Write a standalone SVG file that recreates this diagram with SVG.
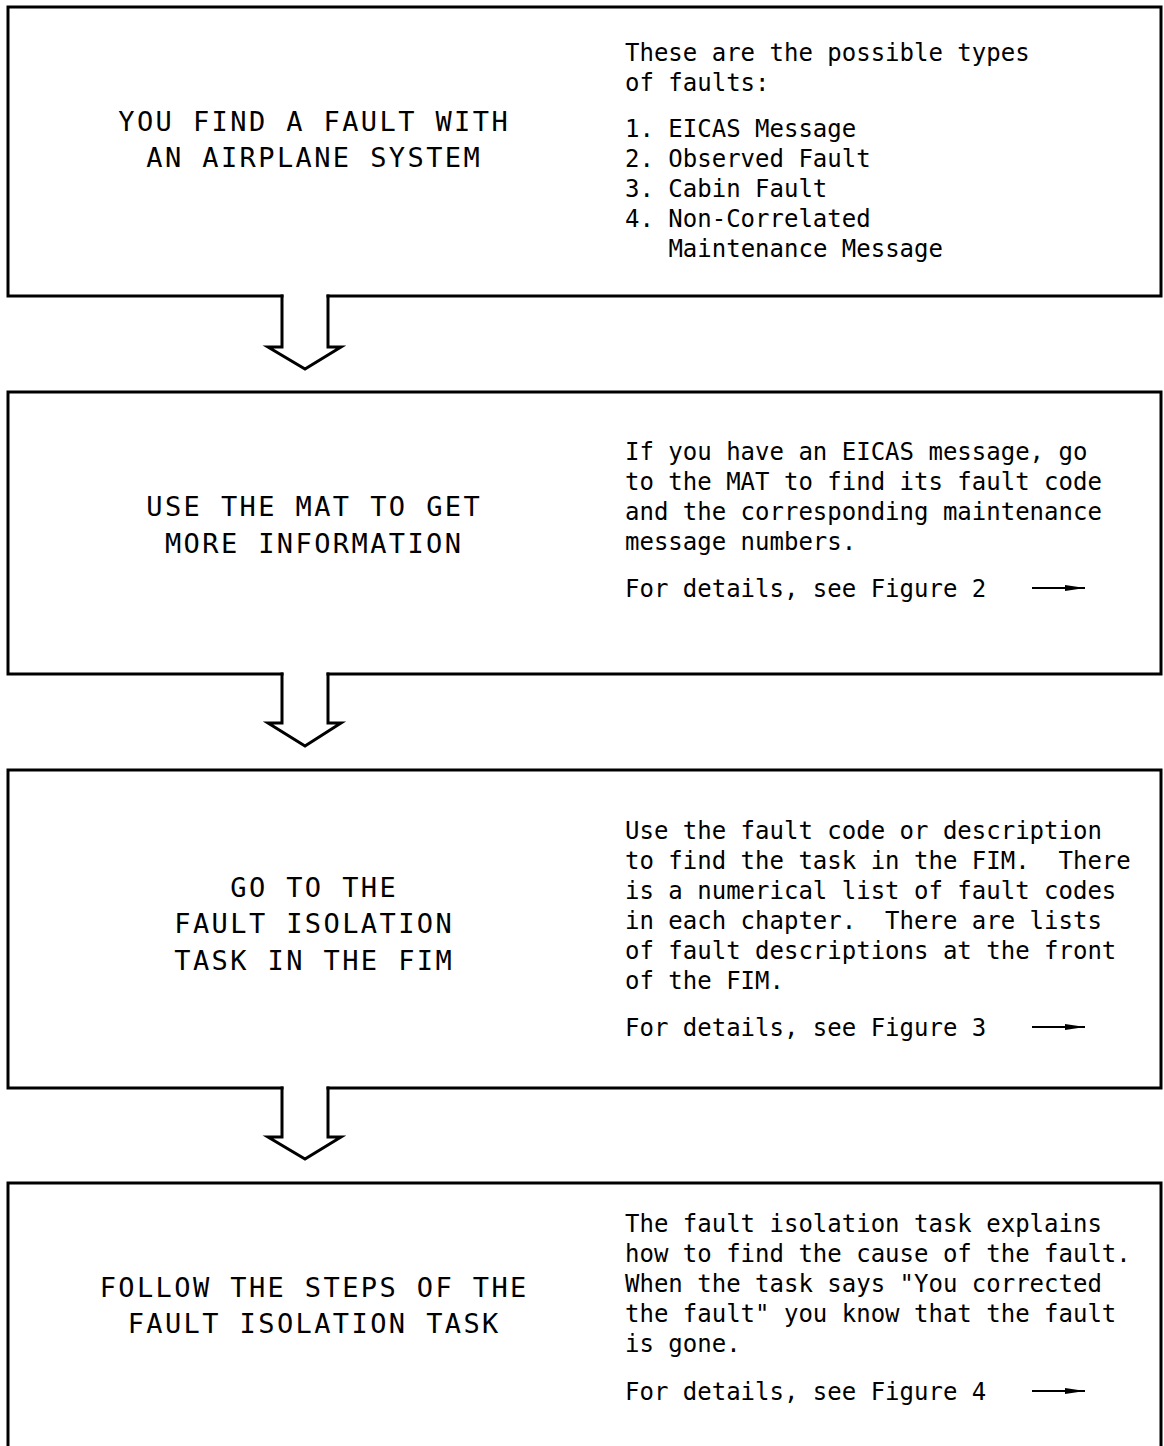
<svg xmlns="http://www.w3.org/2000/svg" width="1164" height="1446" viewBox="0 0 1164 1446">
<style>
.box{fill:none;stroke:#000;stroke-width:3;stroke-linecap:square;stroke-linejoin:miter}
.flow{fill:none;stroke:#000;stroke-width:3;stroke-linecap:square;stroke-linejoin:miter}
.title{font-family:"DejaVu Sans Mono","Liberation Mono",monospace;font-size:27px;letter-spacing:2.4px;text-anchor:middle;fill:#000}
.body{font-family:"DejaVu Sans Mono","Liberation Mono",monospace;font-size:24px;fill:#000;white-space:pre}
.ref{stroke:#000;stroke-width:2;fill:none}
</style>
<defs>
<marker id="ah" markerWidth="20" markerHeight="8" refX="20" refY="4" orient="auto" markerUnits="userSpaceOnUse">
<path d="M0,1 L20,4 L0,7 Z" fill="#000"/>
</marker>
</defs>
<rect width="1164" height="1446" fill="#fff"/>
<g id="node1">
<path class="box" d="M282,296 H8 V7 H1161 V296 H328"/>
<text class="title" x="314.2" y="131">YOU FIND A FAULT WITH</text>
<text class="title" x="314.2" y="167">AN AIRPLANE SYSTEM</text>
<text class="body" x="625" y="61">These are the possible types</text>
<text class="body" x="625" y="91">of faults:</text>
<text class="body" x="625" y="137">1. EICAS Message</text>
<text class="body" x="625" y="167">2. Observed Fault</text>
<text class="body" x="625" y="197">3. Cabin Fault</text>
<text class="body" x="625" y="227">4. Non-Correlated</text>
<text class="body" x="668.4" y="257">Maintenance Message</text>
</g>
<g id="node2">
<path class="box" d="M282,674 H8 V392 H1161 V674 H328"/>
<text class="title" x="314.2" y="516">USE THE MAT TO GET</text>
<text class="title" x="314.2" y="553">MORE INFORMATION</text>
<text class="body" x="625" y="460">If you have an EICAS message, go</text>
<text class="body" x="625" y="490">to the MAT to find its fault code</text>
<text class="body" x="625" y="520">and the corresponding maintenance</text>
<text class="body" x="625" y="550">message numbers.</text>
<text class="body" x="625" y="597">For details, see Figure 2</text>
<line class="ref" x1="1032" y1="588" x2="1085" y2="588" marker-end="url(#ah)"/>
</g>
<g id="node3">
<path class="box" d="M282,1088 H8 V770 H1161 V1088 H328"/>
<text class="title" x="314.2" y="897">GO TO THE</text>
<text class="title" x="314.2" y="933">FAULT ISOLATION</text>
<text class="title" x="314.2" y="970">TASK IN THE FIM</text>
<text class="body" x="625" y="839">Use the fault code or description</text>
<text class="body" x="625" y="869" xml:space="preserve">to find the task in the FIM.  There</text>
<text class="body" x="625" y="899">is a numerical list of fault codes</text>
<text class="body" x="625" y="929" xml:space="preserve">in each chapter.  There are lists</text>
<text class="body" x="625" y="959">of fault descriptions at the front</text>
<text class="body" x="625" y="989">of the FIM.</text>
<text class="body" x="625" y="1036">For details, see Figure 3</text>
<line class="ref" x1="1032" y1="1027" x2="1085" y2="1027" marker-end="url(#ah)"/>
</g>
<g id="node4">
<path class="box" d="M8,1446 V1183 H1161 V1446"/>
<text class="title" x="314.2" y="1297">FOLLOW THE STEPS OF THE</text>
<text class="title" x="314.2" y="1333">FAULT ISOLATION TASK</text>
<text class="body" x="625" y="1232">The fault isolation task explains</text>
<text class="body" x="625" y="1262">how to find the cause of the fault.</text>
<text class="body" x="625" y="1292">When the task says "You corrected</text>
<text class="body" x="625" y="1322">the fault" you know that the fault</text>
<text class="body" x="625" y="1352">is gone.</text>
<text class="body" x="625" y="1400">For details, see Figure 4</text>
<line class="ref" x1="1032" y1="1391" x2="1085" y2="1391" marker-end="url(#ah)"/>
</g>
<g id="connectors">
<path class="flow" d="M282,296 V347 H268 L305,369 L341,347 H328 V296"/>
<path class="flow" d="M282,674 V723 H268 L305,746 L341,723 H328 V674"/>
<path class="flow" d="M282,1088 V1137 H268 L305,1159 L341,1137 H328 V1088"/>
</g>
</svg>
